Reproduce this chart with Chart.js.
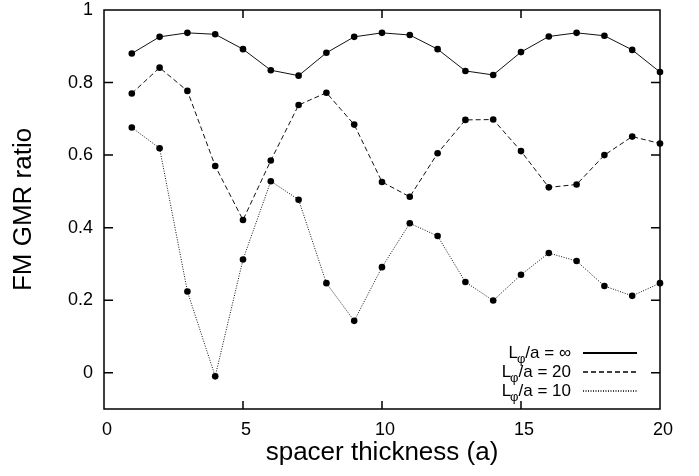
<!DOCTYPE html>
<html>
<head>
<meta charset="utf-8">
<script src="https://cdn.jsdelivr.net/npm/chart.js@4"></script>
<style>
  html, body { margin: 0; padding: 0; background: #fff; }
</style>
</head>
<body>
<canvas id="gmrChart" width="699" height="476"></canvas>
<script>
// spacer thickness (in units of a) and the three GMR curves
const thickness = [1, 2, 3, 4, 5, 6, 7, 8, 9, 10, 11, 12, 13, 14, 15, 16, 17, 18, 19, 20];
const gmrInf = [0.880, 0.926, 0.937, 0.933, 0.892, 0.834, 0.819, 0.882, 0.926, 0.937, 0.931, 0.892, 0.832, 0.821, 0.884, 0.927, 0.937, 0.929, 0.890, 0.829];
const gmr20 = [0.770, 0.841, 0.777, 0.570, 0.421, 0.585, 0.738, 0.772, 0.684, 0.526, 0.485, 0.605, 0.697, 0.698, 0.611, 0.511, 0.519, 0.600, 0.651, 0.632];
const gmr10 = [0.676, 0.619, 0.224, -0.010, 0.312, 0.528, 0.477, 0.247, 0.143, 0.291, 0.412, 0.377, 0.250, 0.199, 0.270, 0.330, 0.308, 0.239, 0.212, 0.247];
const legendValues = ['\u221E', '20', '10'];
const xTicks = [0, 5, 10, 15, 20];
const yTicks = [0, 0.2, 0.4, 0.6, 0.8, 1];

const FONT = '"Liberation Sans", Arial, Helvetica, sans-serif';

function toPoints(values) {
  return thickness.map((t, i) => ({ x: t, y: values[i] }));
}

// gnuplot style box with inward ticks on all four sides
const frameTicks = {
  id: 'frameTicks',
  beforeDatasetsDraw(chart) {
    const { ctx, chartArea: a, scales: { x, y } } = chart;
    ctx.save();
    ctx.strokeStyle = '#000';
    ctx.lineWidth = 1.5;
    ctx.strokeRect(a.left, a.top, a.right - a.left, a.bottom - a.top);
    ctx.beginPath();
    xTicks.forEach(v => {
      if (v <= x.min || v >= x.max) return;
      const px = x.getPixelForValue(v);
      ctx.moveTo(px, a.bottom); ctx.lineTo(px, a.bottom - 8);
      ctx.moveTo(px, a.top); ctx.lineTo(px, a.top + 8);
    });
    yTicks.forEach(v => {
      if (v <= y.min || v >= y.max) return;
      const py = y.getPixelForValue(v);
      ctx.moveTo(a.left, py); ctx.lineTo(a.left + 9, py);
      ctx.moveTo(a.right, py); ctx.lineTo(a.right - 9, py);
    });
    ctx.stroke();
    ctx.restore();
  }
};

// key in the lower right: L_phi/a = value, then a line sample
const seriesKey = {
  id: 'seriesKey',
  afterDraw(chart) {
    const ctx = chart.ctx;
    const textRight = 571, lineLeft = 583, lineRight = 637;
    ctx.save();
    ctx.fillStyle = '#000';
    ctx.textBaseline = 'alphabetic';
    ctx.textAlign = 'left';
    chart.data.datasets.forEach((ds, i) => {
      const rowY = 353 + i * 19;
      const base = rowY + 5;
      ctx.font = '17px ' + FONT;
      const rest = '/a = ' + legendValues[i];
      const wRest = ctx.measureText(rest).width;
      const wL = ctx.measureText('L').width;
      ctx.font = '13px ' + FONT;
      const wPhi = ctx.measureText('\u03C6').width;
      const xRest = textRight - wRest;
      const xPhi = xRest - wPhi;
      const xL = xPhi - wL + 1;
      ctx.font = '17px ' + FONT;
      ctx.fillText('L', xL, base);
      ctx.fillText(rest, xRest, base);
      ctx.font = '13px ' + FONT;
      ctx.fillText('\u03C6', xPhi, base + 5);

      ctx.beginPath();
      ctx.strokeStyle = '#000';
      ctx.lineWidth = i === 0 ? 2 : 1.3;
      ctx.setLineDash(ds.borderDash || []);
      ctx.moveTo(lineLeft, rowY);
      ctx.lineTo(lineRight, rowY);
      ctx.stroke();
    });
    ctx.restore();
  }
};

const commonSet = {
  borderColor: '#111',
  borderWidth: 1,
  pointRadius: 3.3,
  pointBackgroundColor: '#000',
  pointBorderWidth: 0,
  tension: 0,
  clip: false
};

new Chart(document.getElementById('gmrChart'), {
  type: 'line',
  data: {
    datasets: [
      Object.assign({ label: 'L/a = inf', data: toPoints(gmrInf) }, commonSet),
      Object.assign({ label: 'L/a = 20', data: toPoints(gmr20), borderDash: [5, 3] }, commonSet),
      Object.assign({ label: 'L/a = 10', data: toPoints(gmr10), borderDash: [1, 1.5] }, commonSet)
    ]
  },
  options: {
    responsive: false,
    animation: false,
    devicePixelRatio: 1,
    layout: { padding: { left: 0, right: 39, top: 10, bottom: 0 } },
    plugins: {
      legend: { display: false },
      tooltip: { enabled: false }
    },
    scales: {
      x: {
        type: 'linear',
        min: 0,
        max: 20,
        afterBuildTicks: s => { s.ticks = xTicks.map(v => ({ value: v })); },
        afterFit: s => { s.height = 67; s.paddingLeft = 0; s.paddingRight = 0; },
        grid: { display: false, drawTicks: false },
        border: { display: false },
        ticks: {
          color: '#000',
          font: { family: FONT, size: 18 },
          padding: 10,
          labelOffset: 3,
          maxRotation: 0,
          callback: v => String(v)
        },
        title: {
          display: true,
          text: 'spacer thickness (a)',
          color: '#000',
          font: { family: FONT, size: 26, lineHeight: 1 },
          padding: { top: 0, bottom: 10 }
        }
      },
      y: {
        type: 'linear',
        min: -0.1,
        max: 1,
        afterBuildTicks: s => { s.ticks = yTicks.map(v => ({ value: v })); },
        afterFit: s => { s.width = 104; s.paddingTop = 0; s.paddingBottom = 0; },
        grid: { display: false, drawTicks: false },
        border: { display: false },
        ticks: {
          color: '#000',
          font: { family: FONT, size: 18 },
          padding: 11,
          callback: v => String(Math.round(v * 10) / 10)
        },
        title: {
          display: true,
          text: 'FM GMR ratio',
          color: '#000',
          font: { family: FONT, size: 26, lineHeight: 1 },
          padding: { top: 11, bottom: 0 }
        }
      }
    }
  },
  plugins: [frameTicks, seriesKey]
});
</script>
</body>
</html>
